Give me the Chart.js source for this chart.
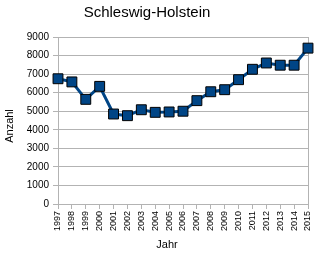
<!DOCTYPE html>
<html>
<head>
<meta charset="utf-8">
<script src="https://cdn.jsdelivr.net/npm/chart.js@4"></script>
<style>
  html, body { margin: 0; padding: 0; background: #fff; }
  #wrap { width: 317px; height: 256px; }
</style>
</head>
<body>
<div id="wrap"><canvas id="chart" width="317" height="256"></canvas></div>
<script>
// data
const years = ['1997', '1998', '1999', '2000', '2001', '2002', '2003', '2004', '2005', '2006',
  '2007', '2008', '2009', '2010', '2011', '2012', '2013', '2014', '2015'];
const counts = [6750, 6580, 5640, 6340, 4850, 4760, 5080, 4940, 4960, 5000,
  5570, 6050, 6160, 6700, 7260, 7600, 7480, 7480, 8400];
const yTicks = [0, 1000, 2000, 3000, 4000, 5000, 6000, 7000, 8000, 9000];

const chartTitle = 'Schleswig-Holstein';
const xTitle = 'Jahr';
const yTitle = 'Anzahl';

const gridGray = '#b3b3b3';
const font = 'Liberation Sans, Arial, sans-serif';

// titles are placed where the original puts them (not centred on the plot)
const titlesPlugin = {
  id: 'titles',
  afterDraw(chart) {
    const ctx = chart.ctx;
    ctx.save();
    ctx.fillStyle = '#000';
    ctx.textAlign = 'center';
    ctx.textBaseline = 'middle';
    ctx.font = '15px ' + font;
    ctx.fillText(chartTitle, 147, 13);
    ctx.font = '11px ' + font;
    ctx.fillText(xTitle, 167, 245);
    ctx.translate(10, 126);
    ctx.rotate(-Math.PI / 2);
    ctx.fillText(yTitle, 0, 0);
    ctx.restore();
  }
};

new Chart(document.getElementById('chart'), {
  type: 'line',
  data: {
    labels: years,
    datasets: [{
      data: counts,
      borderColor: '#004586',
      borderWidth: 3,
      backgroundColor: '#004586',
      pointStyle: 'rect',
      pointRadius: 7,
      pointBorderColor: '#000',
      pointBorderWidth: 1,
      tension: 0
    }]
  },
  options: {
    responsive: false,
    animation: false,
    layout: { padding: { top: 37, right: 9, bottom: 0, left: 0 } },
    plugins: {
      legend: { display: false },
      tooltip: { enabled: false }
    },
    scales: {
      x: {
        offset: false,
        afterFit(scale) {
          scale.height = 52;
          scale.paddingLeft = 0;
          scale.paddingRight = 0;
        },
        border: { color: gridGray, width: 1 },
        grid: {
          color: (c) => c.index === years.length - 1 ? gridGray : 'rgba(0,0,0,0)',
          tickColor: gridGray,
          tickLength: 5
        },
        ticks: {
          color: '#000',
          font: { family: font, size: 9 },
          minRotation: 90,
          maxRotation: 90,
          autoSkip: false,
          padding: 2
        }
      },
      y: {
        min: 0,
        max: 9000,
        afterFit(scale) { scale.width = 58; },
        afterBuildTicks(scale) { scale.ticks = yTicks.map(v => ({ value: v })); },
        border: { color: gridGray, width: 1 },
        grid: { color: gridGray, tickColor: gridGray, tickLength: 5 },
        ticks: {
          color: '#000',
          font: { family: font, size: 10 },
          padding: 4,
          callback: (v) => String(v)
        }
      }
    }
  },
  plugins: [titlesPlugin]
});
</script>
</body>
</html>
